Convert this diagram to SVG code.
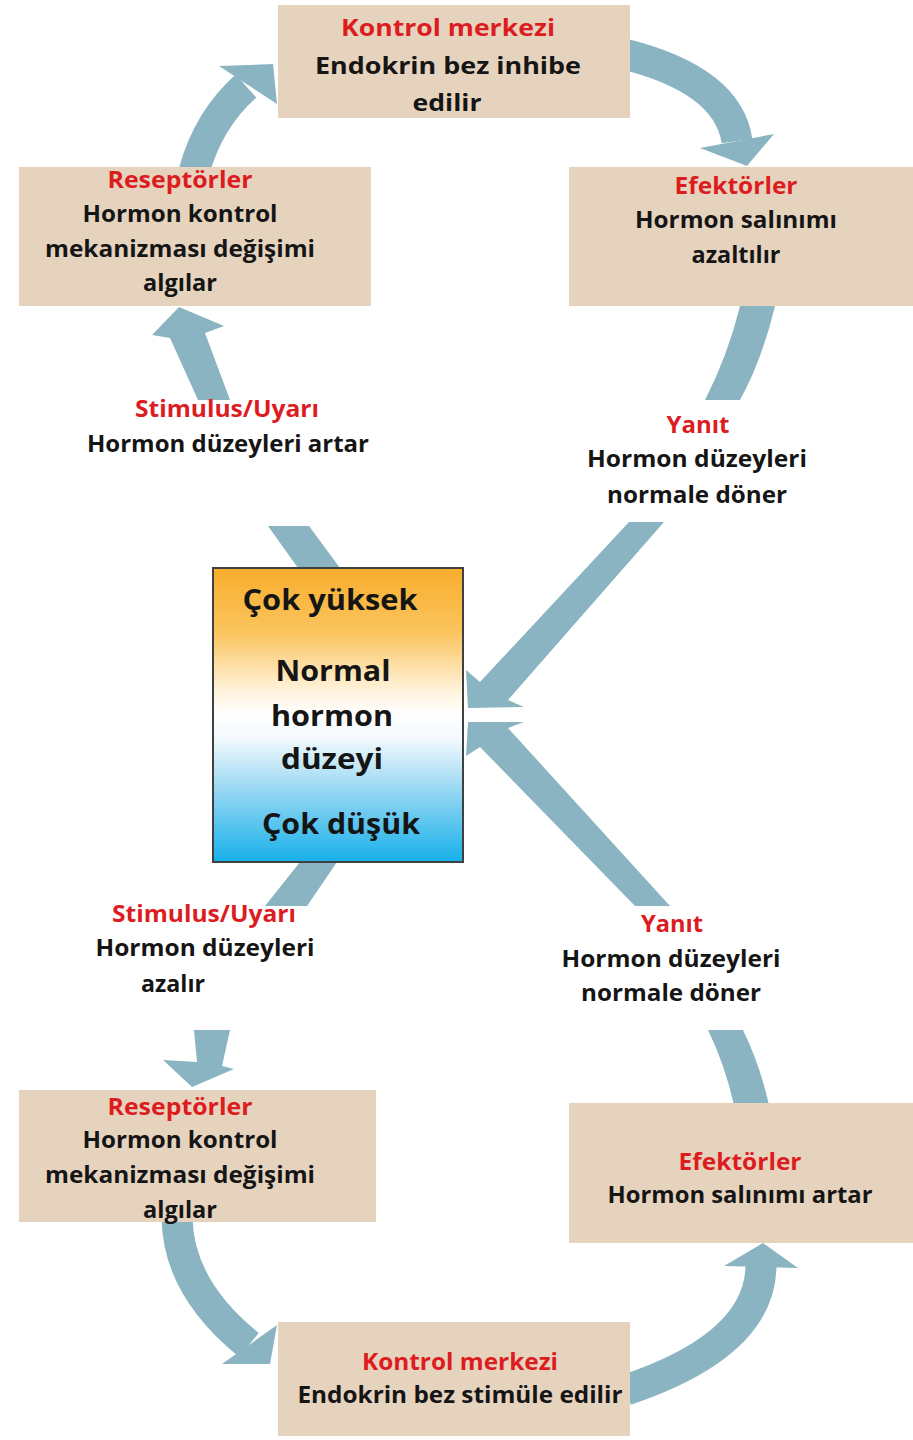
<svg xmlns="http://www.w3.org/2000/svg" width="913" height="1440" viewBox="0 0 913 1440">
<defs>
<linearGradient id="lvl" x1="0" y1="0" x2="0" y2="1">
<stop offset="0" stop-color="#f8ad2c"/>
<stop offset="0.22" stop-color="#fbc45e"/>
<stop offset="0.42" stop-color="#fff3dd"/>
<stop offset="0.5" stop-color="#ffffff"/>
<stop offset="0.58" stop-color="#f2f9fd"/>
<stop offset="0.75" stop-color="#9ad8f3"/>
<stop offset="1" stop-color="#17b0ea"/>
</linearGradient>
<style>
.box{fill:#e6d3be}
.lvl{fill:url(#lvl);stroke:#3f4040;stroke-width:2}
.band{fill:none;stroke:#8ab4c2;stroke-width:31;stroke-linecap:butt}
.arr{fill:#8ab4c2}
text{font-family:"Open Sans","Liberation Sans",sans-serif;font-weight:700;text-anchor:middle;font-size:23px;fill:#151515}
.red{fill:#dd1c1f}
.big{font-size:29px}
</style>
</defs>
<rect width="913" height="1440" fill="#ffffff"/>

<g id="connectors">
<!-- top-left curved: Reseptörler -> Kontrol merkezi -->
<path class="band" d="M194,172 Q208,120 246,86"/>
<polygon class="arr" points="219,66 273,64 277,104"/>
<!-- top-right curved: Kontrol merkezi -> Efektörler -->
<path class="band" d="M624,54 Q728,80 737,141"/>
<polygon class="arr" points="700,148 774,134 747,166"/>
<!-- Efektörler -> Yanıt (top) -->
<path class="arr" d="M740,306 L775,306 Q762,360 740,400 L705,400 Q728,355 740,306 Z"/>
<!-- Yanıt (top) -> level box -->
<path class="arr" d="M629,522 L664,522 L508,700 L524,707 L468,708 L466,670 L480,682 Z"/>
<!-- Yanıt (bottom) -> level box -->
<path class="arr" d="M670,906 L635,906 L480,747 L466,756 L468,722 L524,722 L508,728 Z"/>
<!-- level box -> Stimulus (top) -->
<polygon class="arr" points="268,526 309,526 340,568 298,568"/>
<!-- Stimulus (top) -> Reseptörler -->
<path class="arr" d="M198,400 L230,400 L205,333 L224,326 L179,307 L152,335 L170,338 Z"/>
<!-- level box -> Stimulus (bottom) -->
<polygon class="arr" points="300,862 337,862 307,906 265,906"/>
<!-- Stimulus (bottom) -> Reseptörler (bottom) -->
<path class="arr" d="M194,1030 L230,1030 L222,1066 L234,1069 L192,1087 L163,1060 L197,1062 Z"/>
<!-- Reseptörler (bottom) -> Kontrol merkezi (bottom) -->
<path class="band" d="M177,1218 C178,1270 208,1312 249,1345"/>
<polygon class="arr" points="277,1325 222,1364 270,1364"/>
<!-- Kontrol merkezi (bottom) -> Efektörler (bottom) -->
<path class="band" d="M626,1390 Q760,1345 761,1266"/>
<polygon class="arr" points="724,1266 798,1268 763,1243"/>
<!-- Efektörler (bottom) -> Yanıt (bottom) -->
<path class="arr" d="M708,1030 L743,1030 Q760,1065 769,1105 L734,1105 Q725,1065 708,1030 Z"/>
</g>

<g id="kontrol-top">
<rect class="box" x="278" y="5" width="352" height="113"/>
<text class="red" x="448" y="36" textLength="214" lengthAdjust="spacingAndGlyphs">Kontrol merkezi</text>
<text x="448" y="74" textLength="266" lengthAdjust="spacingAndGlyphs">Endokrin bez inhibe</text>
<text x="447" y="111" textLength="69" lengthAdjust="spacingAndGlyphs">edilir</text>
</g>

<g id="reseptorler-top">
<rect class="box" x="19" y="167" width="352" height="139"/>
<text class="red" x="180" y="188" textLength="145" lengthAdjust="spacingAndGlyphs">Reseptörler</text>
<text x="180" y="222" textLength="195" lengthAdjust="spacingAndGlyphs">Hormon kontrol</text>
<text x="180" y="257" textLength="270" lengthAdjust="spacingAndGlyphs">mekanizması değişimi</text>
<text x="180" y="291" textLength="74" lengthAdjust="spacingAndGlyphs">algılar</text>
</g>

<g id="efektorler-top">
<rect class="box" x="569" y="167" width="344" height="139"/>
<text class="red" x="736" y="194" textLength="123" lengthAdjust="spacingAndGlyphs">Efektörler</text>
<text x="736" y="228" textLength="202" lengthAdjust="spacingAndGlyphs">Hormon salınımı</text>
<text x="736" y="263" textLength="89" lengthAdjust="spacingAndGlyphs">azaltılır</text>
</g>

<g id="stimulus-top">
<text class="red" x="227" y="417" textLength="184" lengthAdjust="spacingAndGlyphs">Stimulus/Uyarı</text>
<text x="228" y="452" textLength="282" lengthAdjust="spacingAndGlyphs">Hormon düzeyleri artar</text>
</g>

<g id="yanit-top">
<text class="red" x="698" y="433" textLength="63" lengthAdjust="spacingAndGlyphs">Yanıt</text>
<text x="697" y="467" textLength="220" lengthAdjust="spacingAndGlyphs">Hormon düzeyleri</text>
<text x="697" y="503" textLength="180" lengthAdjust="spacingAndGlyphs">normale döner</text>
</g>

<g id="hormon-duzeyi">
<rect class="lvl" x="213" y="568" width="250" height="294"/>
<text class="big" x="330" y="610" textLength="175" lengthAdjust="spacingAndGlyphs">Çok yüksek</text>
<text class="big" x="333" y="681" textLength="115" lengthAdjust="spacingAndGlyphs">Normal</text>
<text class="big" x="332" y="726" textLength="122" lengthAdjust="spacingAndGlyphs">hormon</text>
<text class="big" x="332" y="769" textLength="102" lengthAdjust="spacingAndGlyphs">düzeyi</text>
<text class="big" x="341" y="834" textLength="158" lengthAdjust="spacingAndGlyphs">Çok düşük</text>
</g>

<g id="stimulus-bottom">
<text class="red" x="204" y="922" textLength="184" lengthAdjust="spacingAndGlyphs">Stimulus/Uyarı</text>
<text x="205" y="956" textLength="219" lengthAdjust="spacingAndGlyphs">Hormon düzeyleri</text>
<text x="173" y="992" textLength="64" lengthAdjust="spacingAndGlyphs">azalır</text>
</g>

<g id="yanit-bottom">
<text class="red" x="672" y="932" textLength="62" lengthAdjust="spacingAndGlyphs">Yanıt</text>
<text x="671" y="967" textLength="219" lengthAdjust="spacingAndGlyphs">Hormon düzeyleri</text>
<text x="671" y="1001" textLength="180" lengthAdjust="spacingAndGlyphs">normale döner</text>
</g>

<g id="reseptorler-bottom">
<rect class="box" x="19" y="1090" width="357" height="132"/>
<text class="red" x="180" y="1115" textLength="145" lengthAdjust="spacingAndGlyphs">Reseptörler</text>
<text x="180" y="1148" textLength="195" lengthAdjust="spacingAndGlyphs">Hormon kontrol</text>
<text x="180" y="1183" textLength="270" lengthAdjust="spacingAndGlyphs">mekanizması değişimi</text>
<text x="180" y="1218" textLength="74" lengthAdjust="spacingAndGlyphs">algılar</text>
</g>

<g id="efektorler-bottom">
<rect class="box" x="569" y="1103" width="344" height="140"/>
<text class="red" x="740" y="1170" textLength="123" lengthAdjust="spacingAndGlyphs">Efektörler</text>
<text x="740" y="1203" textLength="265" lengthAdjust="spacingAndGlyphs">Hormon salınımı artar</text>
</g>

<g id="kontrol-bottom">
<rect class="box" x="278" y="1322" width="352" height="114"/>
<text class="red" x="460" y="1370" textLength="196" lengthAdjust="spacingAndGlyphs">Kontrol merkezi</text>
<text x="460" y="1403" textLength="325" lengthAdjust="spacingAndGlyphs">Endokrin bez stimüle edilir</text>
</g>
</svg>
